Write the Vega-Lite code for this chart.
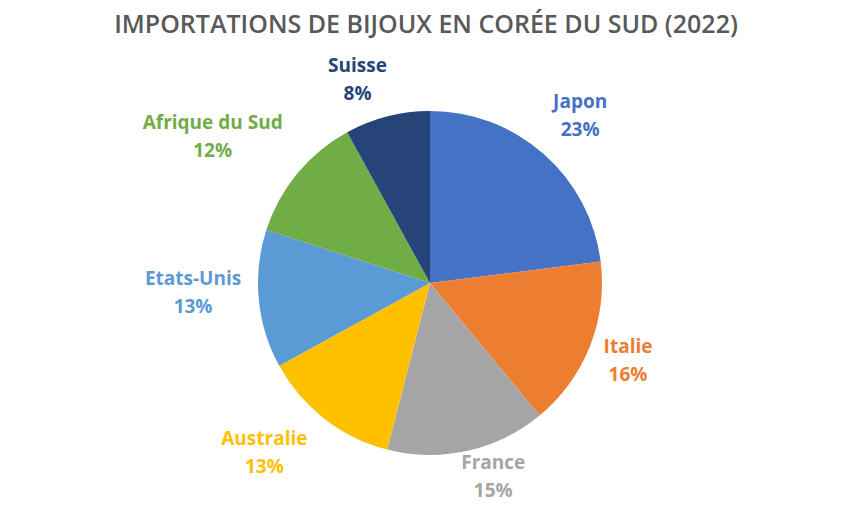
{
  "$schema": "https://vega.github.io/schema/vega-lite/v6.json",
  "width": 822,
  "height": 426,
  "autosize": "none",
  "padding": {"left": 19, "top": 70, "right": 0, "bottom": 9},
  "background": "white",
  "config": {"view": {"stroke": null}},
  "title": {
    "text": "IMPORTATIONS DE BIJOUX EN CORÉE DU SUD (2022)",
    "anchor": "middle",
    "frame": "group",
    "font": "Open Sans",
    "fontSize": 25,
    "fontWeight": 600,
    "color": "#595959",
    "offset": 0,
    "dy": 48,
    "dx": -4,
    "baseline": "bottom"
  },
  "data": {
    "values": [
      {"country": "Japon", "value": 23, "label": "Japon\n23%", "rank": 1},
      {"country": "Italie", "value": 16, "label": "Italie\n16%", "rank": 2},
      {"country": "France", "value": 15, "label": "France\n15%", "rank": 3},
      {"country": "Australie", "value": 13, "label": "Australie\n13%", "rank": 4},
      {"country": "Etats-Unis", "value": 13, "label": "Etats-Unis\n13%", "rank": 5},
      {"country": "Afrique du Sud", "value": 12, "label": "Afrique du Sud\n12%", "rank": 6},
      {"country": "Suisse", "value": 8, "label": "Suisse\n8%", "rank": 7}
    ]
  },
  "encoding": {
    "theta": {"field": "value", "type": "quantitative", "stack": true},
    "order": {"field": "rank", "type": "quantitative"},
    "color": {
      "field": "country",
      "type": "nominal",
      "legend": null,
      "scale": {
        "domain": ["Japon", "Italie", "France", "Australie", "Etats-Unis", "Afrique du Sud", "Suisse"],
        "range": ["#4472C4", "#ED7D31", "#A5A5A5", "#FFC000", "#5B9BD5", "#70AD47", "#264478"]
      }
    }
  },
  "layer": [
    {"mark": {"type": "arc", "outerRadius": 172}},
    {
      "mark": {"type": "text", "radius": 224, "dx": 2, "dy": -13, "font": "Open Sans", "fontSize": 19, "fontWeight": "bold", "lineBreak": "\n", "lineHeight": 28, "align": "center", "baseline": "middle"},
      "encoding": {"text": {"condition": {"test": "datum.country === 'Japon'", "field": "label", "type": "nominal"}, "value": ""}}
    },
    {
      "mark": {"type": "text", "radius": 213, "dy": -14, "font": "Open Sans", "fontSize": 19, "fontWeight": "bold", "lineBreak": "\n", "lineHeight": 28, "align": "center", "baseline": "middle"},
      "encoding": {"text": {"condition": {"test": "datum.country === 'Italie'", "field": "label", "type": "nominal"}, "value": ""}}
    },
    {
      "mark": {"type": "text", "radius": 203, "dx": 19, "dy": -18, "font": "Open Sans", "fontSize": 19, "fontWeight": "bold", "lineBreak": "\n", "lineHeight": 28, "align": "center", "baseline": "middle"},
      "encoding": {"text": {"condition": {"test": "datum.country === 'France'", "field": "label", "type": "nominal"}, "value": ""}}
    },
    {
      "mark": {"type": "text", "radius": 236, "dx": -21, "dy": -30, "font": "Open Sans", "fontSize": 19, "fontWeight": "bold", "lineBreak": "\n", "lineHeight": 28, "align": "center", "baseline": "middle"},
      "encoding": {"text": {"condition": {"test": "datum.country === 'Australie'", "field": "label", "type": "nominal"}, "value": ""}}
    },
    {
      "mark": {"type": "text", "radius": 237, "dx": -1, "dy": -26, "font": "Open Sans", "fontSize": 19, "fontWeight": "bold", "lineBreak": "\n", "lineHeight": 28, "align": "center", "baseline": "middle"},
      "encoding": {"text": {"condition": {"test": "datum.country === 'Etats-Unis'", "field": "label", "type": "nominal"}, "value": ""}}
    },
    {
      "mark": {"type": "text", "radius": 260, "dx": -17, "dy": 6, "font": "Open Sans", "fontSize": 19, "fontWeight": "bold", "lineBreak": "\n", "lineHeight": 28, "align": "center", "baseline": "middle"},
      "encoding": {"text": {"condition": {"test": "datum.country === 'Afrique du Sud'", "field": "label", "type": "nominal"}, "value": ""}}
    },
    {
      "mark": {"type": "text", "radius": 215, "dx": -19, "dy": -9, "font": "Open Sans", "fontSize": 19, "fontWeight": "bold", "lineBreak": "\n", "lineHeight": 28, "align": "center", "baseline": "middle"},
      "encoding": {"text": {"condition": {"test": "datum.country === 'Suisse'", "field": "label", "type": "nominal"}, "value": ""}}
    }
  ]
}
